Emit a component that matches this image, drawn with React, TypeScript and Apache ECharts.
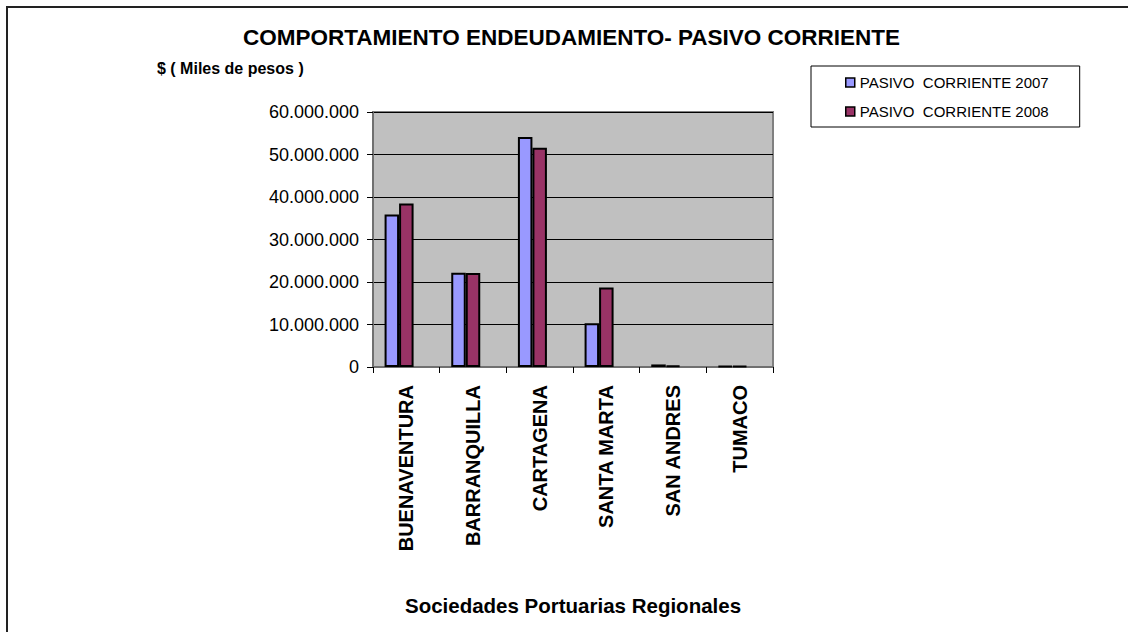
import React, { useEffect, useRef } from "react";
import * as echarts from "echarts";

const categories = ["BUENAVENTURA", "BARRANQUILLA", "CARTAGENA", "SANTA MARTA", "SAN ANDRES", "TUMACO"];
const series2007 = [35900000, 22200000, 54100000, 10300000, 600000, 200000];
const series2008 = [38500000, 22100000, 51600000, 18700000, 300000, 200000];
const emptySlot = [null, null, null, null, null, null];
const seriesNames = ["PASIVO  CORRIENTE 2007", "PASIVO  CORRIENTE 2008"];
const yTicks = { min: 0, max: 60000000, interval: 10000000 };

const FONT = "'Liberation Sans', Arial, Helvetica, sans-serif";

function fmt(v: number): string {
  return String(Math.round(v)).replace(/\B(?=(\d{3})+(?!\d))/g, ".");
}

export default function App() {
  const ref = useRef<HTMLDivElement>(null);
  useEffect(() => {
    if (!ref.current) return;
    const chart = echarts.init(ref.current, undefined, { renderer: "svg" });
    const barStyle = (color: string) => ({ color, borderColor: "#000", borderWidth: 2 });
    chart.setOption({
      animation: false,
      backgroundColor: "#fff",
      textStyle: { fontFamily: FONT },
      title: {
        text: "COMPORTAMIENTO ENDEUDAMIENTO- PASIVO CORRIENTE",
        left: 243,
        top: 26,
        padding: 0,
        textStyle: { fontFamily: FONT, fontSize: 22.5, fontWeight: "bold", color: "#000" },
      },
      legend: {
        orient: "vertical",
        left: 811,
        top: 66,
        data: seriesNames,
        backgroundColor: "#fff",
        borderColor: "#000",
        borderWidth: 1,
        padding: [9, 31, 8, 34],
        itemGap: 14,
        itemWidth: 9,
        itemHeight: 9,
        icon: "rect",
        itemStyle: { borderColor: "#000", borderWidth: 1.5 },
        textStyle: { fontFamily: FONT, fontSize: 15, lineHeight: 15, color: "#000" },
      },
      grid: {
        left: 373,
        top: 112,
        width: 400,
        height: 255,
        show: true,
        backgroundColor: "#C0C0C0",
        borderColor: "#808080",
        borderWidth: 2,
      },
      xAxis: {
        type: "category",
        data: categories,
        name: "Sociedades Portuarias Regionales",
        nameLocation: "middle",
        nameGap: 228,
        nameTextStyle: { fontFamily: FONT, fontSize: 20.5, fontWeight: "bold", color: "#000" },
        axisLine: { lineStyle: { color: "#707070", width: 2 } },
        axisTick: { show: true, length: 6, inside: false, lineStyle: { color: "#000", width: 1 } },
        axisLabel: {
          rotate: 90,
          margin: 18,
          fontFamily: FONT,
          fontSize: 20,
          fontWeight: "bold",
          color: "#000",
        },
      },
      yAxis: {
        type: "value",
        min: yTicks.min,
        max: yTicks.max,
        interval: yTicks.interval,
        axisLine: { show: true, lineStyle: { color: "#707070", width: 2 } },
        axisTick: { show: true, length: 6, lineStyle: { color: "#000", width: 1 } },
        axisLabel: {
          margin: 14,
          fontFamily: FONT,
          fontSize: 18,
          color: "#000",
          formatter: (v: number) => fmt(v),
        },
        splitLine: { show: true, lineStyle: { color: "#000", width: 1 } },
      },
      series: [
        {
          name: seriesNames[0],
          type: "bar",
          data: series2007,
          barWidth: 14.5,
          barGap: "0%",
          itemStyle: barStyle("#9999FF"),
        },
        {
          name: seriesNames[1],
          type: "bar",
          data: series2008,
          barWidth: 14.5,
          barGap: "0%",
          itemStyle: barStyle("#993366"),
        },
        {
          name: "",
          type: "bar",
          data: emptySlot,
          barWidth: 14.5,
          barGap: "0%",
          itemStyle: { color: "transparent" },
          silent: true,
        },
      ],
      graphic: [
        {
          type: "rect",
          shape: { x: 7, y: 7, width: 1200, height: 700 },
          style: { fill: "none", stroke: "#222", lineWidth: 2 },
          silent: true,
          z: -1,
        },
        {
          type: "text",
          x: 157,
          y: 68,
          style: {
            text: "$ ( Miles de pesos )",
            fontFamily: FONT,
            fontSize: 16,
            fontWeight: "bold",
            fill: "#000",
            verticalAlign: "middle",
          },
        },
      ],
    });
    return () => chart.dispose();
  }, []);
  return (
    <div
      ref={ref}
      style={{ position: "fixed", left: 0, top: 0, width: 1128, height: 632 }}
    />
  );
}
